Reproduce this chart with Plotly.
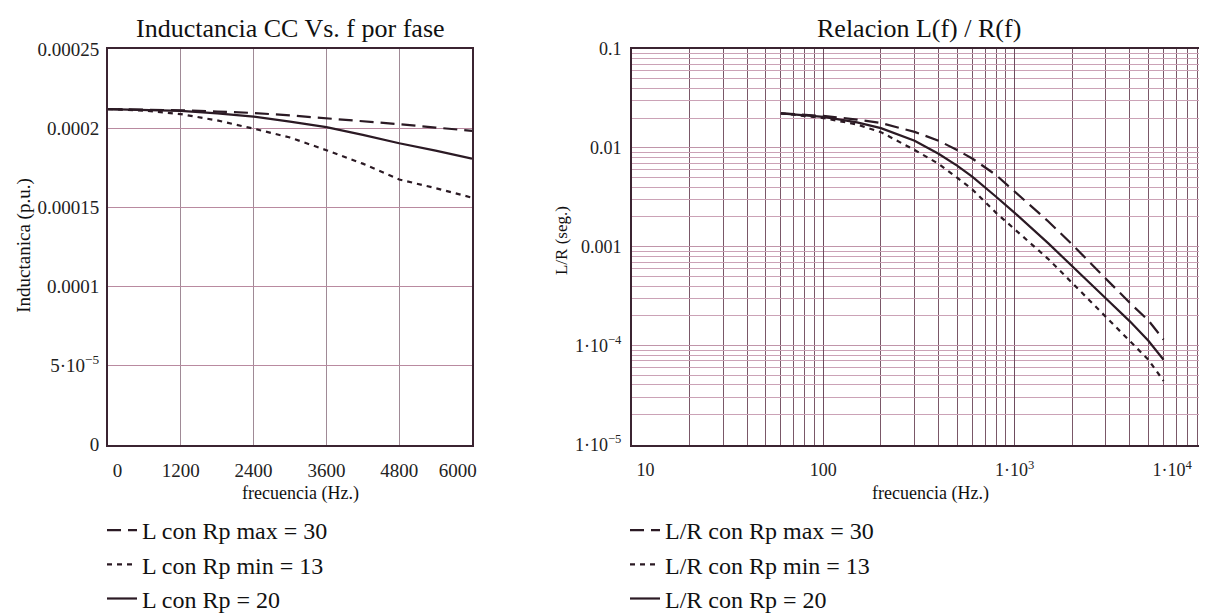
import plotly.graph_objects as go

# Inductancia CC vs frecuencia
frec_l = [0, 600, 1200, 1800, 2400, 3000, 3600, 4200, 4800, 5400, 6000]
L_rp_max = [0.000212, 0.0002118, 0.0002112, 0.0002104, 0.0002095, 0.000208,
            0.0002062, 0.0002043, 0.0002024, 0.0002003, 0.0001982]
L_rp_min = [0.000212, 0.000211, 0.0002088, 0.0002048, 0.0001996, 0.0001940,
            0.000186, 0.0001775, 0.0001675, 0.000162, 0.000156]
L_rp_20 = [0.000212, 0.0002115, 0.0002108, 0.0002092, 0.0002072, 0.000204,
           0.0002006, 0.0001957, 0.0001904, 0.0001857, 0.0001807]

# Relacion L/R vs frecuencia
frec_lr = [60, 100, 150, 200, 300, 400, 500, 600, 800, 1000, 1500, 2000,
           3000, 4000, 5000, 6000]
LR_rp_max = [0.0223, 0.0210, 0.0193, 0.0178, 0.0145, 0.0118, 0.0095, 0.0078,
             0.0053, 0.0036, 0.0018, 0.00105, 0.00047, 0.00027, 0.00018, 0.000115]
LR_rp_min = [0.0223, 0.0200, 0.0172, 0.0144, 0.0095, 0.0069, 0.0050, 0.0038,
             0.0022, 0.00150, 0.00075, 0.00043, 0.000195, 0.000112, 0.000072, 0.000044]
LR_rp_20 = [0.0223, 0.0205, 0.0181, 0.0158, 0.0118, 0.0087, 0.0066, 0.0051,
            0.0032, 0.0022, 0.00108, 0.00064, 0.00030, 0.000176, 0.000112, 0.000072]

nombres_l = ["L con Rp max = 30", "L con Rp min = 13", "L con Rp = 20"]
nombres_lr = ["L/R con Rp max = 30", "L/R con Rp min = 13", "L/R con Rp = 20"]

ticks_x_l = [0, 1200, 2400, 3600, 4800, 6000]
texto_x_l = ["0", "1200", "2400", "3600", "4800", "6000"]
ticks_y_l = [0, 0.00005, 0.0001, 0.00015, 0.0002, 0.00025]
texto_y_l = ["0", "5·10<sup>−5</sup>", "0.0001", "0.00015", "0.0002", "0.00025"]
ticks_x_lr = [10, 100, 1000, 10000]
texto_x_lr = ["10", "100", "1·10<sup>3</sup>", "1·10<sup>4</sup>"]
ticks_y_lr = [1e-5, 1e-4, 1e-3, 1e-2, 1e-1]
texto_y_lr = ["1·10<sup>−5</sup>", "1·10<sup>−4</sup>", "0.001", "0.01", "0.1"]

W, H = 1207, 613
FUENTE = "Liberation Serif"
TINTA = "#2b1a24"
EJE = "#3b2431"
NB = "\u00a0"


def px(x):
    return x / W


def py(y):
    return 1 - y / H


def extremos(textos, izq, der):
    # Mathcad mete las etiquetas de los extremos dentro del eje
    t = list(textos)
    t[0] = NB * izq + t[0]
    t[-1] = t[-1] + NB * der
    return t


estilos = [dict(dash="14px,7px"), dict(dash="5px,5px"), dict(dash="solid")]

fig = go.Figure()

for nombre, serie, est in zip(nombres_l, [L_rp_max, L_rp_min, L_rp_20], estilos):
    fig.add_trace(go.Scatter(
        x=frec_l, y=serie, mode="lines", name=nombre,
        line=dict(color=TINTA, width=2.2, **est),
        xaxis="x", yaxis="y", legend="legend"
    ))

for nombre, serie, est in zip(nombres_lr, [LR_rp_max, LR_rp_min, LR_rp_20], estilos):
    fig.add_trace(go.Scatter(
        x=frec_lr, y=serie, mode="lines", name=nombre,
        line=dict(color=TINTA, width=2.2, **est),
        xaxis="x2", yaxis="y2", legend="legend2"
    ))


def eje(tam):
    return dict(showline=True, mirror=True, linecolor=EJE, linewidth=2,
                ticks="", zeroline=False, automargin=False,
                ticklabeloverflow="allow",
                tickfont=dict(family=FUENTE, size=tam, color="#222"))


minor_x = [k * 10 ** e for e in range(1, 4) for k in range(2, 10)]
minor_y = [k * 10.0 ** e for e in range(-5, -1) for k in range(2, 10)]

fig.update_layout(
    width=W, height=H, autosize=False,
    margin=dict(l=0, r=0, t=0, b=0),
    paper_bgcolor="white", plot_bgcolor="white",
    xaxis=dict(domain=[px(100), px(464)], range=[0, 6000], anchor="y",
               tickmode="array", tickvals=ticks_x_l,
               ticktext=extremos(texto_x_l, 4, 6), ticklabelstandoff=8,
               showgrid=True, gridcolor="#a08a96", gridwidth=1, **eje(19)),
    yaxis=dict(domain=[py(459), py(43)], range=[0, 0.00025], anchor="x",
               tickmode="array", tickvals=ticks_y_l, ticktext=texto_y_l,
               ticklabelstandoff=3,
               showgrid=True, gridcolor="#b98aa0", gridwidth=1, **eje(19)),
    xaxis2=dict(domain=[px(624), px(1198)], type="log", range=[1, 4], anchor="y2",
                tickmode="array", tickvals=ticks_x_lr,
                ticktext=extremos(texto_x_lr, 6, 15), ticklabelstandoff=8,
                showgrid=True, gridcolor="#6e4c5e", gridwidth=1,
                minor=dict(tickmode="array", tickvals=minor_x, showgrid=True,
                           gridcolor="#7a5868", gridwidth=1, ticks=""),
                **eje(18)),
    yaxis2=dict(domain=[py(459), py(43)], type="log", range=[-5, -1], anchor="x2",
                tickmode="array", tickvals=ticks_y_lr, ticktext=texto_y_lr,
                ticklabelstandoff=5,
                showgrid=True, gridcolor="#c095aa", gridwidth=1,
                minor=dict(tickmode="array", tickvals=minor_y, showgrid=True,
                           gridcolor="#cba2b6", gridwidth=1, ticks=""),
                **eje(18)),
    legend=dict(x=px(94), y=py(526), xanchor="left", yanchor="top",
                font=dict(family=FUENTE, size=24, color="#111"),
                bgcolor="rgba(0,0,0,0)", itemwidth=30, tracegroupgap=0),
    legend2=dict(x=px(617), y=py(526), xanchor="left", yanchor="top",
                 font=dict(family=FUENTE, size=24, color="#111"),
                 bgcolor="rgba(0,0,0,0)", itemwidth=30, tracegroupgap=0),
    showlegend=True,
)

# titulos y etiquetas de ejes
textos = [
    ("Inductancia CC Vs. f por fase", 282, 22, 26, 0),
    ("Relacion L(f) / R(f)", 911, 22, 26, 0),
    ("frecuencia (Hz.)", 292, 510, 18, 0),
    ("frecuencia (Hz.)", 922, 510, 18, 0),
    ("Inductanica (p.u.)", 16, 250, 19, -90),
    ("L/R (seg.)", 553, 245, 17, -90),
]
for texto, x, y, tam, ang in textos:
    fig.add_annotation(text=texto, x=px(x), y=py(y), xref="paper", yref="paper",
                       xanchor="center", yanchor="middle",
                       showarrow=False, textangle=ang,
                       font=dict(family=FUENTE, size=tam, color="#111"))

fig.write_html("out.html")
